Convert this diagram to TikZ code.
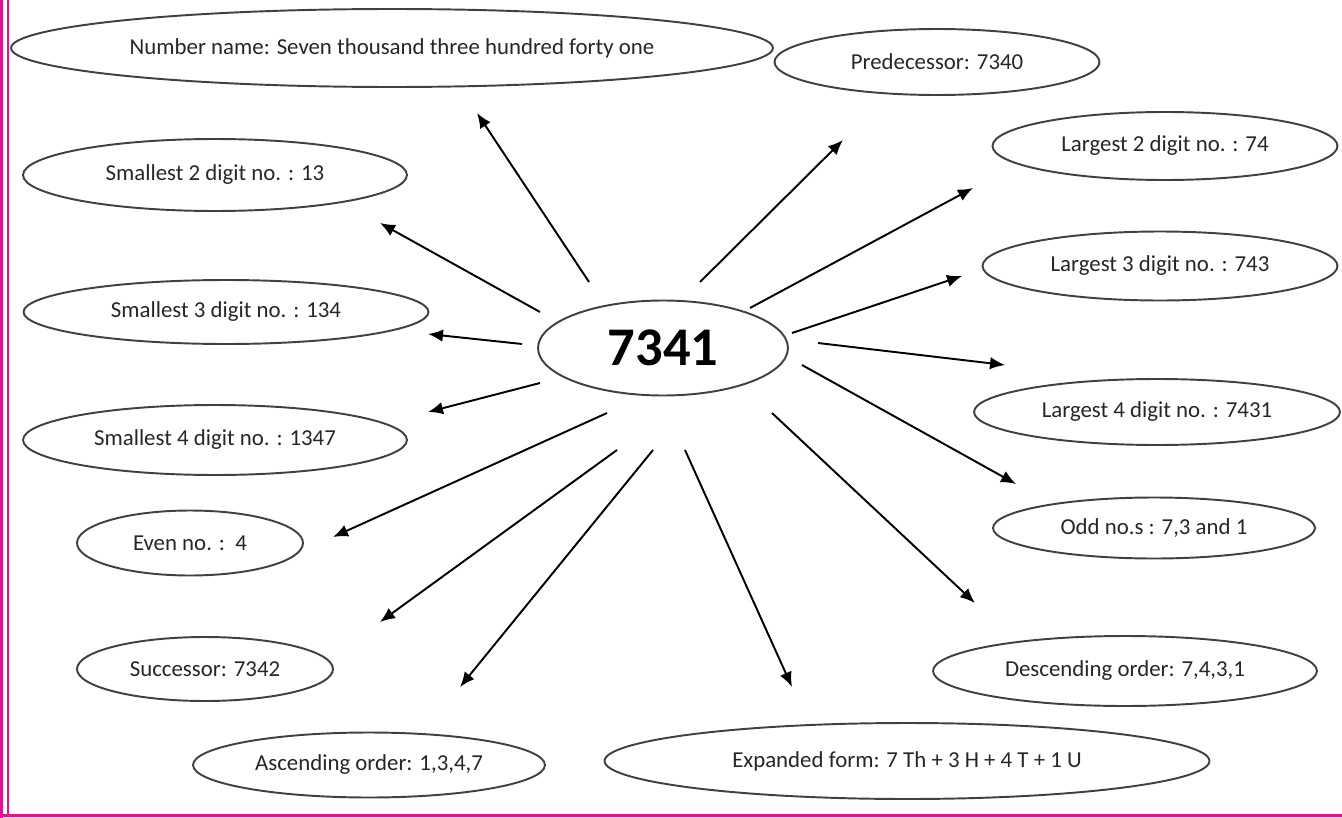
\documentclass[tikz,border=0pt]{standalone}
\usepackage{fontspec}
\setmainfont{Carlito}
\usetikzlibrary{shapes.geometric,arrows.meta}
\definecolor{pagepink}{RGB}{228,18,140}

\begin{document}
\begin{tikzpicture}[x=0.02cm, y=-0.02cm]
    \tikzstyle{bubble} = [draw = black!75, line width = 1.1pt, ellipse, inner sep = 0pt,
      text = black!85, font = \fontsize{13}{15}\selectfont];
    \tikzstyle{ray} = [line width = 1.1pt, -{Latex[length=3mm, width=2.5mm]}];
    \useasboundingbox (0,0) rectangle (1342,818);
    % page border:
    \draw[pagepink, line width = 1.5pt] (1.5,0) -- (1.5,818);
    \draw[pagepink, line width = 1.5pt] (8,0) -- (8,815.5);
    \draw[pagepink, line width = 1.5pt] (1.5,815.5) -- (1342,815.5);
    % centre:
    \node[bubble, minimum width = 5cm, minimum height = 1.9cm,
      font = \fontsize{31}{36}\selectfont\bfseries, text = black] (c) at (663,348) {7341};
    % facts:
    \node[bubble, minimum width = 15.24cm, minimum height = 1.56cm] (nn) at (392,48) {Number name: Seven thousand three hundred forty one};
    \node[bubble, minimum width = 6.5cm, minimum height = 1.32cm] (pre) at (937,62) {Predecessor: 7340};
    \node[bubble, minimum width = 6.9cm, minimum height = 1.36cm] (l2) at (1165,146) {Largest 2 digit no. : 74};
    \node[bubble, minimum width = 7.68cm, minimum height = 1.44cm] (s2) at (215,175) {Smallest 2 digit no. : 13};
    \node[bubble, minimum width = 7.1cm, minimum height = 1.38cm] (l3) at (1160,266) {Largest 3 digit no. : 743};
    \node[bubble, minimum width = 8.1cm, minimum height = 1.28cm] (s3) at (226,312) {Smallest 3 digit no. : 134};
    \node[bubble, minimum width = 7.32cm, minimum height = 1.32cm] (l4) at (1157,412) {Largest 4 digit no. : 7431};
    \node[bubble, minimum width = 7.68cm, minimum height = 1.4cm] (s4) at (215,440) {Smallest 4 digit no. : 1347};
    \node[bubble, minimum width = 4.52cm, minimum height = 1.3cm] (even) at (190,543) {Even no. :~~4};
    \node[bubble, minimum width = 6.44cm, minimum height = 1.22cm] (odd) at (1154,528) {Odd no.s : 7,3 and 1};
    \node[bubble, minimum width = 5.12cm, minimum height = 1.28cm] (succ) at (205,669) {Successor: 7342};
    \node[bubble, minimum width = 7.68cm, minimum height = 1.4cm] (desc) at (1125,671) {Descending order: 7,4,3,1};
    \node[bubble, minimum width = 7.04cm, minimum height = 1.3cm] (asc) at (369,765) {Ascending order: 1,3,4,7};
    \node[bubble, minimum width = 12.1cm, minimum height = 1.52cm] (exp) at (907,761) {Expanded form: 7 Th + 3 H + 4 T + 1 U};
    % arrow ends:
    \coordinate (nn-a) at (589,282);   \coordinate (nn-b) at (477,113);
    \coordinate (pre-a) at (700,282);  \coordinate (pre-b) at (843,140);
    \coordinate (s2-a) at (540,312);   \coordinate (s2-b) at (380,223);
    \coordinate (l2-a) at (750,308);   \coordinate (l2-b) at (973,188);
    \coordinate (l3-a) at (792,333);   \coordinate (l3-b) at (962,276);
    \coordinate (s3-a) at (522,344);   \coordinate (s3-b) at (428,334);
    \coordinate (l4-a) at (818,343);   \coordinate (l4-b) at (1005,365);
    \coordinate (s4-a) at (540,383);   \coordinate (s4-b) at (428,412);
    \coordinate (odd-a) at (802,365);  \coordinate (odd-b) at (1016,484);
    \coordinate (even-a) at (607,413); \coordinate (even-b) at (333,537);
    \coordinate (desc-a) at (772,413); \coordinate (desc-b) at (975,603);
    \coordinate (succ-a) at (617,450); \coordinate (succ-b) at (380,622);
    \coordinate (asc-a) at (653,450);  \coordinate (asc-b) at (460,687);
    \coordinate (exp-a) at (685,450);  \coordinate (exp-b) at (792,687);
    % arrows:
    \draw[ray] (nn-a) -- (nn-b);     \draw[ray] (pre-a) -- (pre-b);
    \draw[ray] (s2-a) -- (s2-b);     \draw[ray] (l2-a) -- (l2-b);
    \draw[ray] (l3-a) -- (l3-b);     \draw[ray] (s3-a) -- (s3-b);
    \draw[ray] (l4-a) -- (l4-b);     \draw[ray] (s4-a) -- (s4-b);
    \draw[ray] (odd-a) -- (odd-b);   \draw[ray] (even-a) -- (even-b);
    \draw[ray] (desc-a) -- (desc-b); \draw[ray] (succ-a) -- (succ-b);
    \draw[ray] (asc-a) -- (asc-b);   \draw[ray] (exp-a) -- (exp-b);
  \end{tikzpicture}
\end{document}
